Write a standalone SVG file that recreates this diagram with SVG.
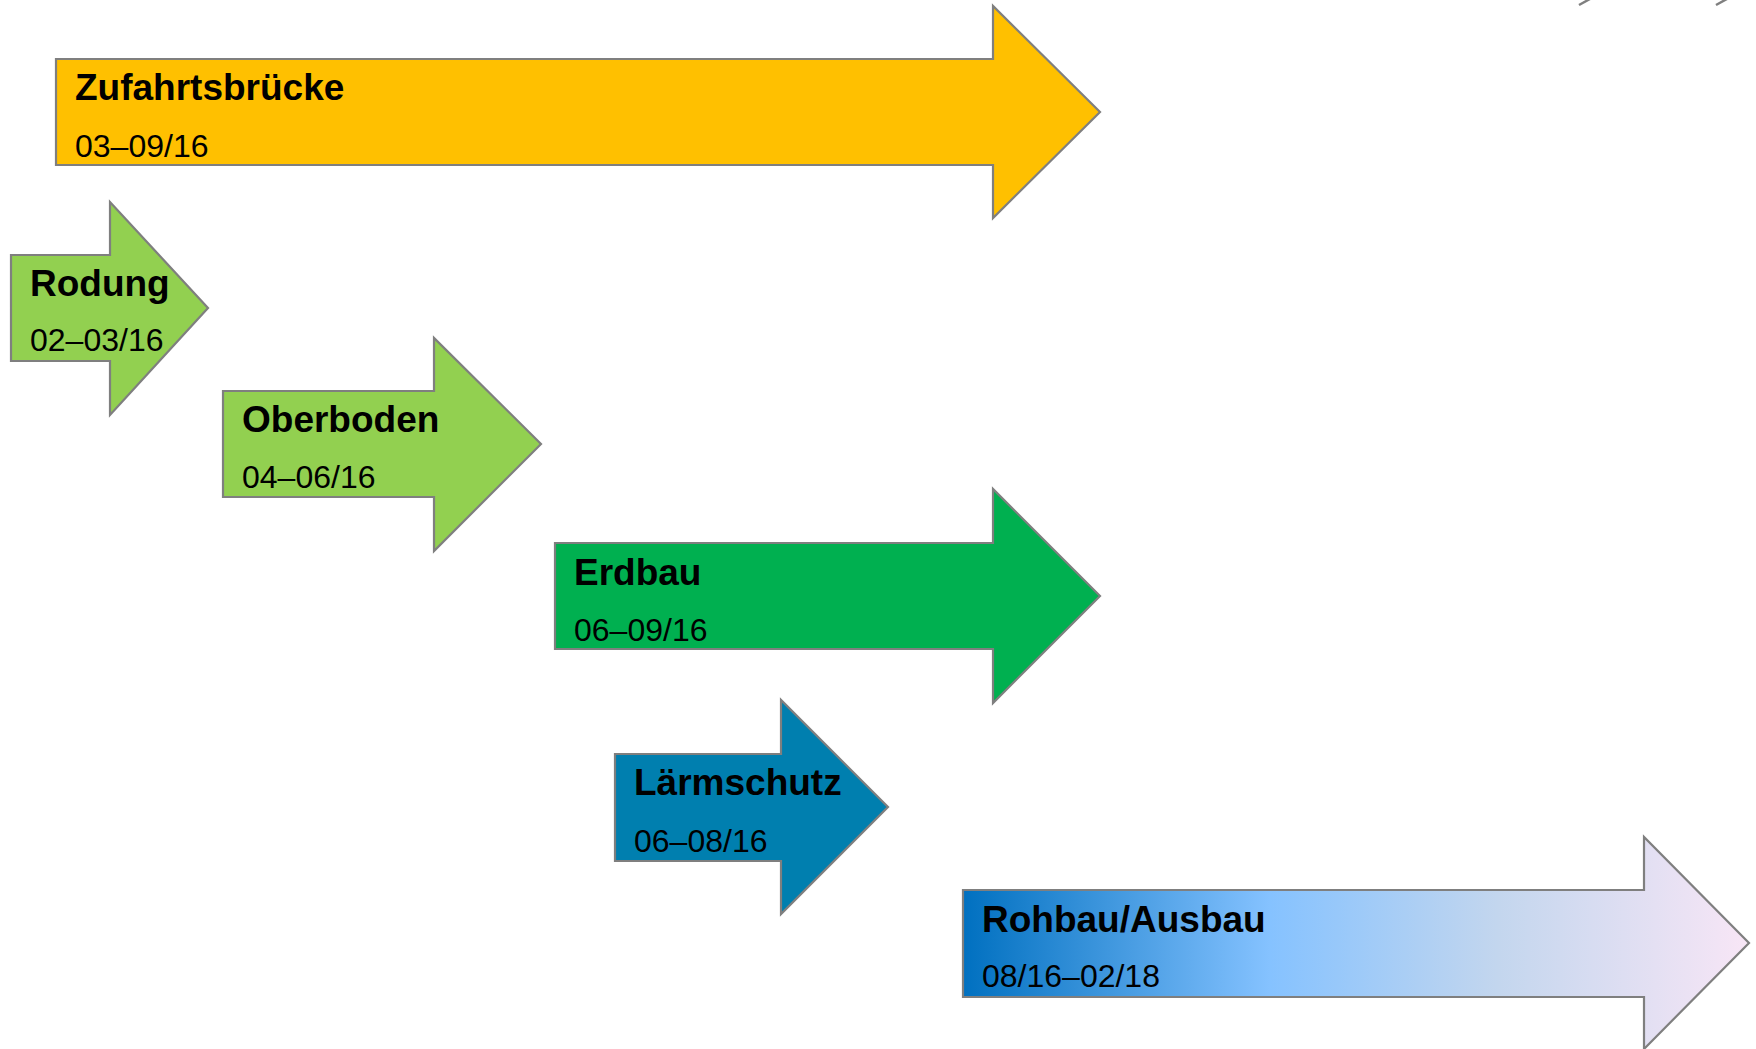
<svg xmlns="http://www.w3.org/2000/svg" width="1756" height="1049" viewBox="0 0 1756 1049">
<style>
.arr{stroke:#7F7F7F;stroke-width:2.2;stroke-linejoin:miter}
.t{font-family:"Liberation Sans",Arial,sans-serif;font-weight:bold;font-size:37px;fill:#000}
.d{font-family:"Liberation Sans",Arial,sans-serif;font-size:32px;fill:#000}
.ln{stroke:#7F7F7F;stroke-width:2.5;fill:none}
</style>
<defs>
<linearGradient id="g1" gradientUnits="userSpaceOnUse" x1="963" y1="0" x2="1749" y2="0">
<stop offset="0" stop-color="#0070C0"/>
<stop offset="0.39" stop-color="#85C2FF"/>
<stop offset="0.68" stop-color="#C3D6EE"/>
<stop offset="1" stop-color="#F8E6F6"/>
</linearGradient>
</defs>
<rect width="1756" height="1049" fill="#FFFFFF"/>
<g id="connectors">
<line class="ln" x1="1579" y1="5" x2="1590" y2="-1"/>
<line class="ln" x1="1716" y1="5" x2="1727" y2="-1"/>
</g>
<g id="zufahrt">
<polygon class="arr" fill="#FFC000" points="56,59 993,59 993,6 1100,112 993,218 993,165 56,165"/>
<text class="t" x="75" y="100">Zufahrtsbrücke</text>
<text class="d" x="75" y="157">03–09/16</text>
</g>
<g id="rodung">
<polygon class="arr" fill="#92D050" points="11,255 110,255 110,202 208,308 110,415 110,361 11,361"/>
<text class="t" x="30" y="296">Rodung</text>
<text class="d" x="30" y="351">02–03/16</text>
</g>
<g id="oberboden">
<polygon class="arr" fill="#92D050" points="223,391 434,391 434,338 541,444 434,551 434,497 223,497"/>
<text class="t" x="242" y="432">Oberboden</text>
<text class="d" x="242" y="488">04–06/16</text>
</g>
<g id="erdbau">
<polygon class="arr" fill="#00B050" points="555,543 993,543 993,489 1100,596 993,703 993,649 555,649"/>
<text class="t" x="574" y="585">Erdbau</text>
<text class="d" x="574" y="641">06–09/16</text>
</g>
<g id="laermschutz">
<polygon class="arr" fill="#007FAF" points="615,754 781,754 781,700 888,807 781,914 781,861 615,861"/>
<text class="t" x="634" y="795">Lärmschutz</text>
<text class="d" x="634" y="852">06–08/16</text>
</g>
<g id="rohbau">
<polygon class="arr" fill="url(#g1)" points="963,890 1644,890 1644,837 1749,943 1644,1049 1644,997 963,997"/>
<text class="t" x="982" y="932">Rohbau/Ausbau</text>
<text class="d" x="982" y="987">08/16–02/18</text>
</g>
</svg>
